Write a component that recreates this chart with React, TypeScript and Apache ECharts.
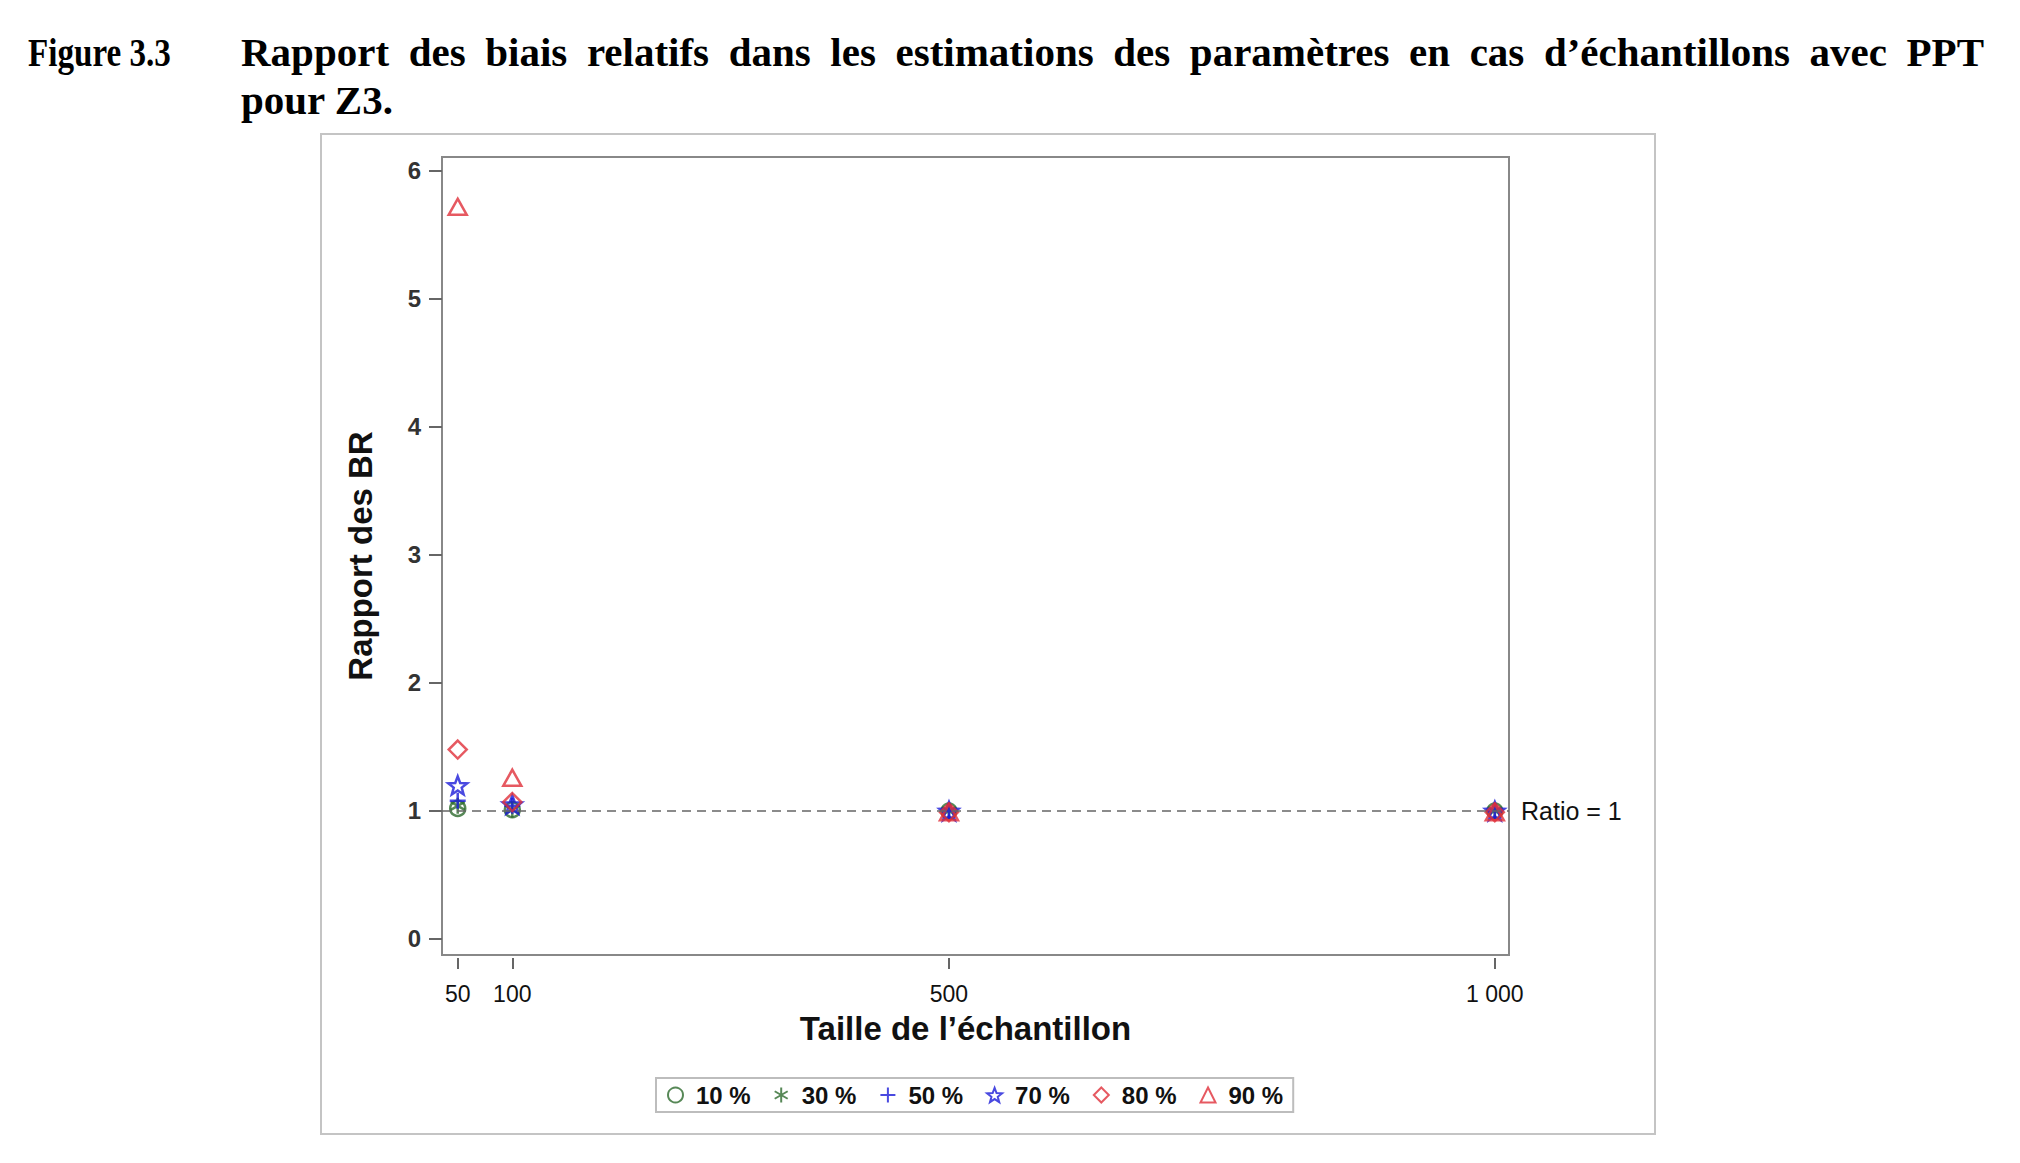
import React, { useEffect, useRef } from 'react';
import * as echarts from 'echarts';

// ---- data ----
const sampleSizes = [50, 100, 500, 1000];
const seriesNames = ['10 %', '30 %', '50 %', '70 %', '80 %', '90 %'];
const ratio10 = [1.02, 1.01, 1.0, 1.0];
const ratio30 = [1.04, 1.01, 1.0, 1.0];
const ratio50 = [1.08, 1.04, 1.0, 1.0];
const ratio70 = [1.2, 1.05, 1.0, 1.0];
const ratio80 = [1.48, 1.07, 0.99, 0.99];
const ratio90 = [5.72, 1.26, 0.99, 0.99];
const xTicks = [50, 100, 500, 1000];
const yTicks = [0, 1, 2, 3, 4, 5, 6];

const figureLabel = 'Figure 3.3';
const titleLine1 = 'Rapport des biais relatifs dans les estimations des paramètres en cas d’échantillons avec PPT';
const titleLine2 = 'pour Z3.';
const xTitle = 'Taille de l’échantillon';
const yTitle = 'Rapport des BR';
const refLabel = 'Ratio = 1';

const SANS = "'Liberation Sans', Arial, sans-serif";
const SERIF = "'Liberation Serif', 'Times New Roman', serif";
const TITLE_SIZE = 41;

const GREEN = '#2d6a2d';
const BLUE = '#1c1cd8';
const RED = '#e0303a';

const STAR = 'path://M0,-1L0.247,-0.34L0.951,-0.309L0.399,0.13L0.588,0.809L0,0.42L-0.588,0.809L-0.399,0.13L-0.951,-0.309L-0.247,-0.34Z';
const PLUS = 'path://M0,-1L0,1M-1,0L1,0';
const ASTER = 'path://M0,-1L0,1M-0.866,-0.5L0.866,0.5M-0.866,0.5L0.866,-0.5';

function fmtThousands(v: number) {
  return String(v).replace(/\B(?=(\d{3})+(?!\d))/g, ' ');
}

function measure(text: string, font: string) {
  const canvas = document.createElement('canvas');
  const ctx = canvas.getContext('2d')!;
  ctx.font = font;
  return ctx.measureText(text).width;
}

function titleStyle(text: string) {
  return {
    text,
    fontFamily: SERIF,
    fontWeight: 'bold',
    fontSize: TITLE_SIZE,
    fill: '#000',
    verticalAlign: 'middle',
  };
}

function justifiedWords(text: string, x0: number, x1: number, y: number, font: string) {
  const words = text.split(' ');
  const widths = words.map((w) => measure(w, font));
  const total = widths.reduce((a, b) => a + b, 0);
  const gap = (x1 - x0 - total) / (words.length - 1);
  let x = x0;
  return words.map((w, i) => {
    const el = { type: 'text', x, y, style: titleStyle(w) };
    x += widths[i] + gap;
    return el;
  });
}

export default function App() {
  const ref = useRef<HTMLDivElement>(null);
  useEffect(() => {
    if (!ref.current) return;
    const chart = echarts.init(ref.current, null, { renderer: 'svg' });

    const mk = (name: string, vals: number[], symbol: string, color: string, size: number | number[], extra: any = {}) => ({
      name,
      type: 'scatter',
      data: sampleSizes.map((x, i) => [x, vals[i]]),
      symbol,
      symbolSize: size,
      symbolKeepAspect: true,
      itemStyle: { color: 'rgba(255,255,255,0)', borderColor: color, borderWidth: 2.5 },
      emphasis: { disabled: true },
      ...extra,
    });

    const titleFont = `bold ${TITLE_SIZE}px ${SERIF}`;
    const figW = measure(figureLabel, titleFont);
    const figScale = 143 / figW;

    const option: any = {
      animation: false,
      backgroundColor: '#fff',
      graphic: [
        {
          type: 'rect',
          shape: { x: 321, y: 134, width: 1334, height: 1000 },
          style: { fill: 'none', stroke: '#c4c4c4', lineWidth: 2 },
          silent: true,
        },
        {
          type: 'text',
          x: 28,
          y: 52,
          scaleX: figScale,
          style: titleStyle(figureLabel),
        },
        ...justifiedWords(titleLine1, 241, 1984, 52, titleFont),
        {
          type: 'text',
          x: 241,
          y: 100,
          style: titleStyle(titleLine2),
        },
      ],
      grid: {
        left: 442,
        top: 157,
        right: 2020 - 1509,
        bottom: 1163 - 955,
        show: true,
        borderColor: '#888',
        borderWidth: 2,
        backgroundColor: 'transparent',
      },
      legend: {
        left: 656,
        top: 1078,
        orient: 'horizontal',
        padding: [5, 10, 5, 11],
        itemGap: 23,
        itemWidth: 15,
        itemHeight: 15,
        borderColor: '#bdbdbd',
        borderWidth: 2,
        selectedMode: false,
        textStyle: { fontFamily: SANS, fontWeight: 'bold', fontSize: 24, color: '#111', padding: [0, 0, 0, 8] },
        data: seriesNames,
      },
      xAxis: {
        type: 'value',
        min: 35.6,
        max: 1013,
        offset: 3,
        name: xTitle,
        nameLocation: 'middle',
        nameGap: 54,
        nameTextStyle: { fontFamily: SANS, fontWeight: 'bold', fontSize: 33, color: '#111', padding: [0, 20, 0, 0] },
        axisLine: { show: false, onZero: false },
        axisTick: { show: true, length: 11, customValues: xTicks, lineStyle: { color: '#666', width: 2 } },
        axisLabel: {
          customValues: xTicks,
          margin: 24,
          fontFamily: SANS,
          fontSize: 23,
          color: '#111',
          formatter: (v: number) => fmtThousands(v),
        },
        splitLine: { show: false },
      },
      yAxis: {
        type: 'value',
        min: -0.125,
        max: 6.109,
        name: yTitle,
        nameLocation: 'middle',
        nameGap: 65,
        nameTextStyle: { fontFamily: SANS, fontWeight: 'bold', fontSize: 33, color: '#111' },
        axisLine: { show: false, onZero: false },
        axisTick: { show: true, length: 13, customValues: yTicks, lineStyle: { color: '#666', width: 2 } },
        axisLabel: {
          customValues: yTicks,
          margin: 21,
          fontFamily: SANS,
          fontWeight: 'bold',
          fontSize: 24,
          color: '#333',
        },
        splitLine: { show: false },
      },
      series: [
        mk(seriesNames[0], ratio10, 'circle', GREEN, 15, {
          markLine: {
            silent: true,
            symbol: ['none', 'none'],
            lineStyle: { type: [9, 6], color: '#666', width: 1.5 },
            label: {
              show: true,
              position: 'end',
              distance: 12,
              formatter: refLabel,
              fontFamily: SANS,
              fontSize: 25,
              color: '#111',
            },
            emphasis: { disabled: true },
            data: [{ yAxis: 1 }],
          },
        }),
        mk(seriesNames[1], ratio30, ASTER, GREEN, 16),
        mk(seriesNames[2], ratio50, PLUS, BLUE, 16),
        mk(seriesNames[3], ratio70, STAR, BLUE, 19),
        mk(seriesNames[4], ratio80, 'diamond', RED, [18, 18]),
        mk(seriesNames[5], ratio90, 'triangle', RED, [18, 16]),
      ],
    };
    chart.setOption(option);
    return () => chart.dispose();
  }, []);
  return (
    <div
      ref={ref}
      style={{ position: 'fixed', left: 0, top: 0, width: 2020, height: 1163, background: '#fff' }}
    />
  );
}
